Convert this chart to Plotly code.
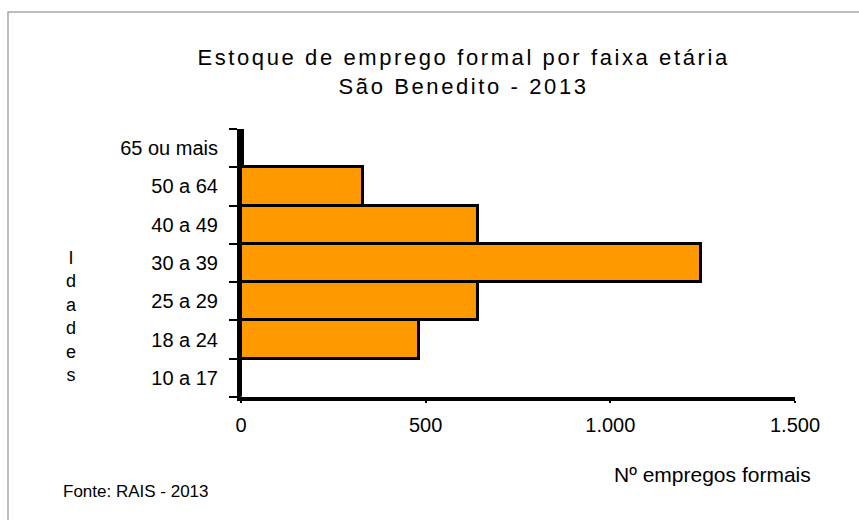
import plotly.graph_objects as go

categories = ["10 a 17", "18 a 24", "25 a 29", "30 a 39", "40 a 49", "50 a 64", "65 ou mais"]
values = [0, 483, 643, 1245, 643, 331, 6]
x_ticks = [0, 500, 1000, 1500]
x_tick_labels = ["0", "500", "1.000", "1.500"]

W, H = 859, 520
L, R, T, B = 241, 64, 129, 123
pw, ph = W - L - R, H - T - B

def px(x):
    return (x - L) / pw

def py(y):
    return (H - B - y) / ph

FONT = "Liberation Sans, Arial, sans-serif"

fig = go.Figure()
fig.add_trace(go.Bar(
    y=categories, x=values, orientation="h",
    marker=dict(color="#FF9900", line=dict(color="black", width=3)),
    width=1.0,
))

fig.update_layout(
    width=W, height=H,
    margin=dict(l=L, r=R, t=T, b=B),
    paper_bgcolor="white", plot_bgcolor="white",
    showlegend=False, bargap=0,
    font=dict(family=FONT, color="black"),
    xaxis=dict(
        range=[0, 1500], tickvals=x_ticks, ticktext=x_tick_labels,
        showgrid=False, zeroline=False, showline=True, linecolor="black", linewidth=4,
        ticks="outside", ticklen=2, tickwidth=2, tickcolor="black",
        tickfont=dict(size=20, family=FONT), ticklabelstandoff=5,
    ),
    yaxis=dict(
        type="category", categoryorder="array", categoryarray=categories,
        showgrid=False, zeroline=False, showline=True, linecolor="black", linewidth=4,
        ticks="outside", ticklen=8, tickwidth=2, tickcolor="black", tickson="boundaries",
        tickfont=dict(size=20, family=FONT), ticklabelstandoff=15,
    ),
)

# outer border
fig.add_shape(type="rect", xref="paper", yref="paper",
              x0=px(8), x1=px(W + 20), y0=py(H + 20), y1=py(12),
              line=dict(color="#A8A8A8", width=1.5), fillcolor="rgba(0,0,0,0)", layer="below")

fig.add_annotation(xref="paper", yref="paper", x=px(464), y=py(72),
                   text="Estoque de emprego formal por faixa etária<br>São Benedito - 2013",
                   showarrow=False, font=dict(size=22, family=FONT),
                   xanchor="center", yanchor="middle", align="center")
fig.add_annotation(xref="paper", yref="paper", x=px(71), y=py(316),
                   text="I<br>d<br>a<br>d<br>e<br>s", showarrow=False,
                   font=dict(size=18, family=FONT), xanchor="center", yanchor="middle",
                   align="center")
fig.add_annotation(xref="paper", yref="paper", x=px(712), y=py(474),
                   text="Nº empregos formais", showarrow=False,
                   font=dict(size=21, family=FONT), xanchor="center", yanchor="middle")
fig.add_annotation(xref="paper", yref="paper", x=px(61), y=py(491),
                   text="Fonte: RAIS - 2013", showarrow=False,
                   font=dict(size=17, family=FONT), xanchor="left", yanchor="middle")

post = """
document.body.style.margin = '0';
var t = document.querySelectorAll('.annotation-text')[0];
if (t) { t.style.letterSpacing = '2.6px'; }
"""
fig.write_html("out.html", post_script=post, config={"displayModeBar": False})
